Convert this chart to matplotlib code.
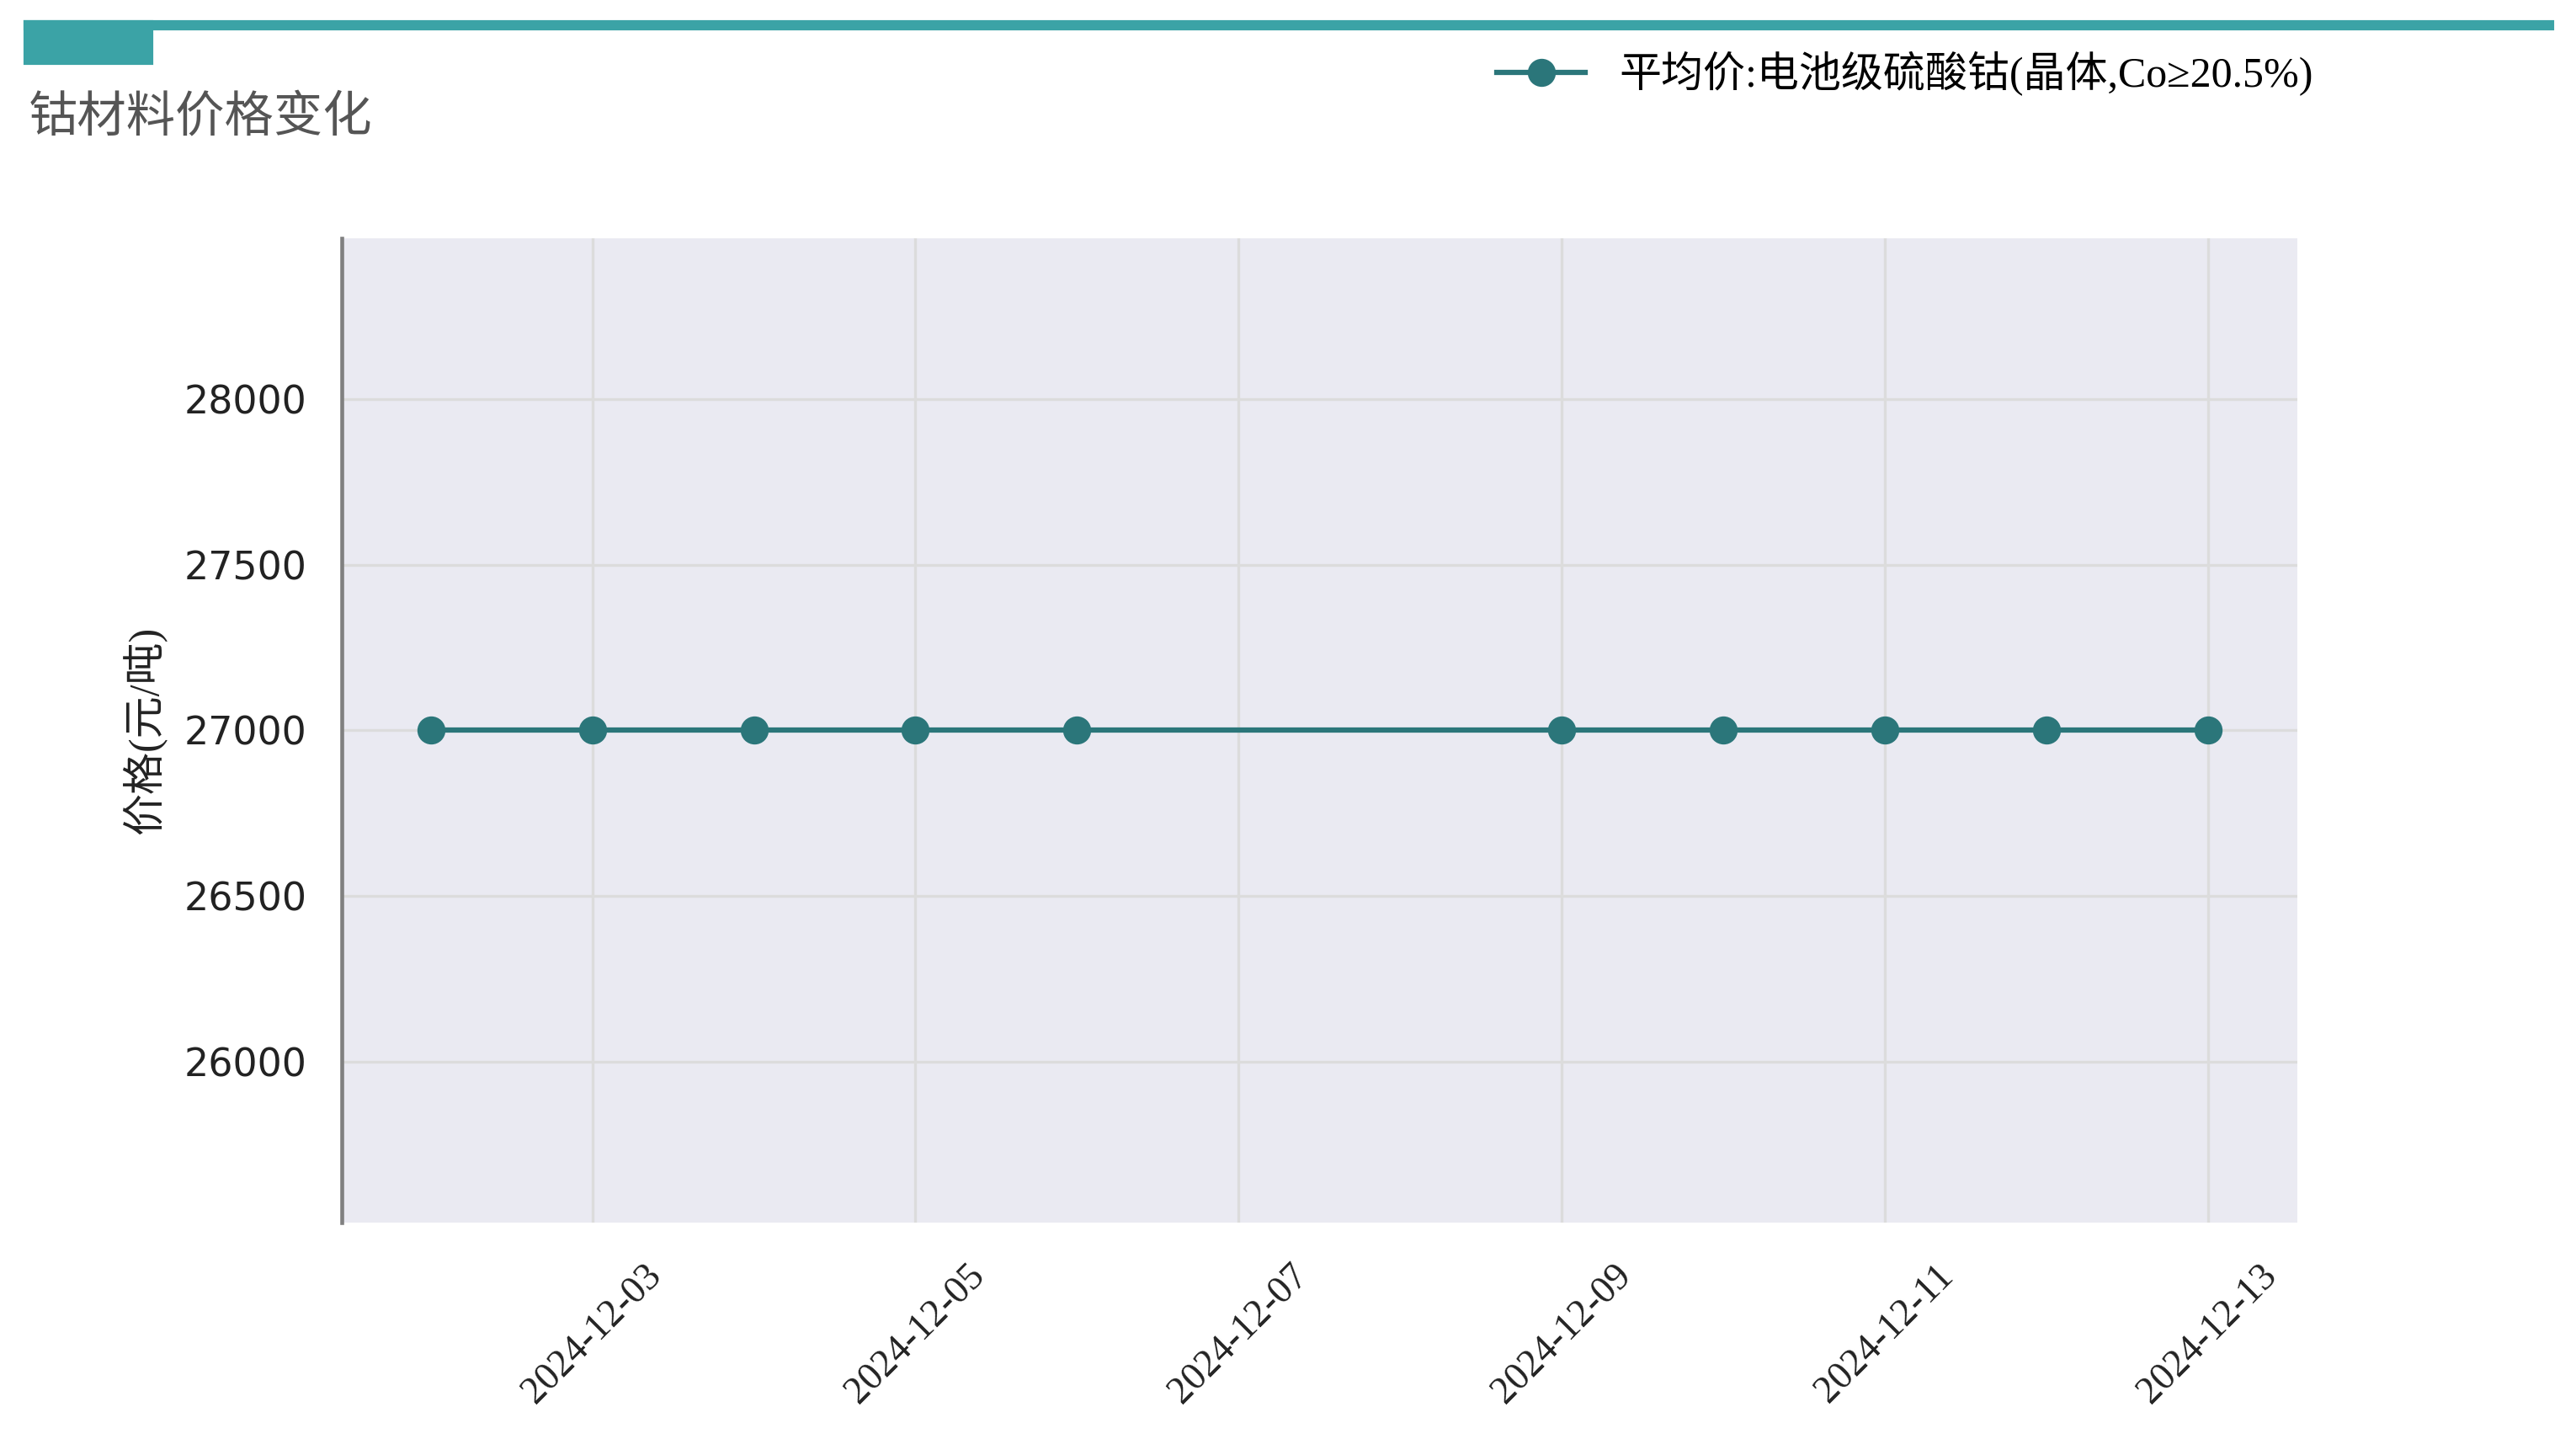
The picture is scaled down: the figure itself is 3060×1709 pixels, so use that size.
import matplotlib
matplotlib.use("Agg")
import matplotlib.pyplot as plt
import matplotlib.dates as mdates
from matplotlib.patches import Rectangle
import pandas as pd

dates = ["2024-12-02", "2024-12-03", "2024-12-04", "2024-12-05", "2024-12-06",
         "2024-12-09", "2024-12-10", "2024-12-11", "2024-12-12", "2024-12-13"]
prices = [27000, 27000, 27000, 27000, 27000, 27000, 27000, 27000, 27000, 27000]
series_name = "平均价:电池级硫酸钴(晶体,Co≥20.5%)"
title = "钴材料价格变化"
ylabel = "价格(元/吨)"

cjk = ["Liberation Serif", "Noto Sans CJK SC"]
teal = "#3BA3A6"
line_color = "#2B767A"

x = pd.to_datetime(dates)

fig = plt.figure(figsize=(10.2, 1709 / 300), dpi=300)
ax = fig.add_axes([0.1327, 0.1504, 0.759, 0.684])
ax.set_facecolor("#EAEAF2")

ax.plot(x, prices, color=line_color, lw=1.5, marker="o", markersize=7,
        label=series_name)

ax.set_ylim(min(prices) * 0.945, max(prices) * 1.055)
ax.set_yticks([26000, 26500, 27000, 27500, 28000])
ax.xaxis.set_major_locator(mdates.DayLocator(bymonthday=range(1, 32, 2)))
ax.xaxis.set_major_formatter(mdates.DateFormatter("%Y-%m-%d"))

ax.grid(True, color="#DCDCDC", lw=0.8)
ax.set_axisbelow(True)
for s in ["top", "right", "bottom"]:
    ax.spines[s].set_visible(False)
ax.spines["left"].set_color("#808080")
ax.spines["left"].set_linewidth(1.1)

ax.tick_params(axis="both", length=0, pad=10)
for lbl in ax.get_yticklabels():
    lbl.set_fontsize(11)
    lbl.set_color("#222222")
for lbl in ax.get_xticklabels():
    lbl.set_rotation(45)
    lbl.set_ha("center")
    lbl.set_fontsize(11)
    lbl.set_family("Liberation Serif")
    lbl.set_color("#222222")

ax.set_ylabel(ylabel, family=cjk, fontsize=12, color="#222222", labelpad=5)

# header decoration
fig.patches.append(Rectangle((30 / 3060, 1 - 34 / 1709), 3002 / 3060, 8 / 1709,
                             transform=fig.transFigure, color=teal, zorder=0))
fig.patches.append(Rectangle((30 / 3060, 1 - 75 / 1709), 150 / 3060, 49 / 1709,
                             transform=fig.transFigure, color=teal, zorder=0))

fig.text(34 / 3060, 1 - 140 / 1709, title, family=["Noto Sans CJK SC"],
         fontsize=14, color="#555555", va="center", ha="left")

fig.legend(loc="center left", bbox_to_anchor=(1778 / 3060, 1 - 88 / 1709),
           frameon=False, prop={"family": cjk, "size": 12},
           borderpad=0, borderaxespad=0, handlelength=2.1, handletextpad=0.8)

fig.savefig("out.png", dpi=300)
